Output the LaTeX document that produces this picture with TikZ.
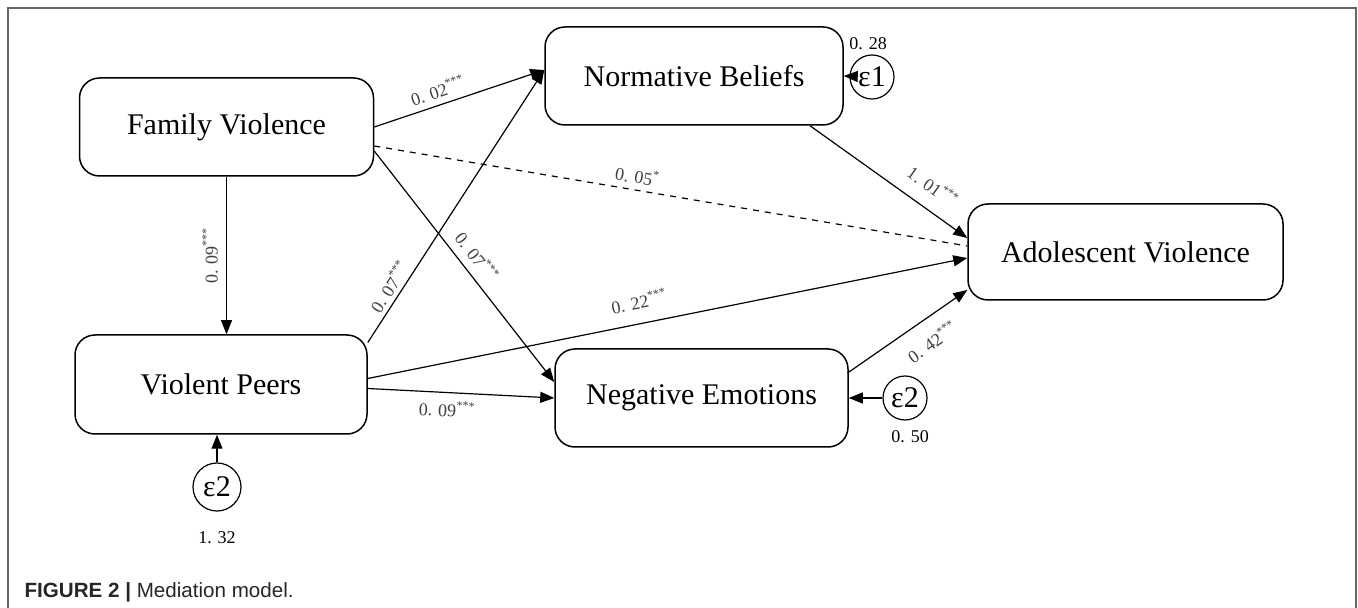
\documentclass[tikz,border=0pt]{standalone}
\usepackage{fontspec}
\setmainfont{Liberation Serif}
\newfontfamily\capfont{Liberation Sans}
\usetikzlibrary{arrows.meta}

\begin{document}
\begin{tikzpicture}[x=0.5pt,y=-0.5pt,
	var/.style={draw, line width=0.75pt, rounded corners=10pt, minimum width=147pt, minimum height=49pt, font=\fontsize{15}{18}\selectfont},
	err/.style={draw, circle, line width=0.6pt, inner sep=0pt, minimum size=22pt, font=\fontsize{15}{18}\selectfont},
	coef/.style={font=\fontsize{9}{10}\selectfont, text=black!75, inner sep=1pt},
	every path/.style={line width=0.6pt},
	>={Triangle[length=7pt,width=5.5pt]}]
	\useasboundingbox (0,0) rectangle (1358,608);
	%Frame
	\draw[line width=1pt, black!60] (8,608) -- (8,8.5) -- (1356,8.5) -- (1356,608);
	%Variables
	\node[var] (fv) at (226.5,127) {Family Violence};
	\node[var, minimum width=146pt, minimum height=49.5pt] (vp) at (221,384.5) {Violent Peers};
	\node[var, minimum width=149pt] (nb) at (694,76) {Normative Beliefs};
	\node[var, minimum width=146.5pt] (ne) at (701.5,398) {Negative Emotions};
	\node[var, minimum width=157.5pt, minimum height=48pt] (av) at (1125.5,252) {Adolescent Violence};
	%Errors
	\node[err] (errnb) at (872,77) {ε1};
	\node[err] (errne) at (905,398) {ε2};
	\node[err, minimum size=24pt] (errvp) at (217,487) {ε2};
	\node[coef, text=black] (varnb) at (868,44) {0. 28};
	\node[coef, text=black] (varne) at (910,437) {0. 50};
	\node[coef, text=black] (varvp) at (217,538) {1. 32};
	\draw[->] (errnb) -- (nb.east);
	\draw[->] (errne) -- (ne.east);
	\draw[->] (errvp) -- (errvp |- vp.south);
	%Paths
	\draw[->] (fv.east) -- ([yshift=3pt]nb.west) node[coef, pos=0.4, sloped, above=2pt] {0. 02\textsuperscript{***}};
	\draw[dashed] ([yshift=-9.5pt]fv.east) -- ([yshift=3pt]av.west) node[coef, pos=0.44, sloped, above=2pt] {0. 05\textsuperscript{*}};
	\draw[->] ([yshift=-12pt]fv.east) -- ([yshift=8pt]ne.west) node[coef, pos=0.5, sloped, above=3pt] {0. 07\textsuperscript{***}};
	\draw[->] (fv.south) -- (fv.south |- vp.north) node[coef, midway, rotate=90, above=3pt] {0. 09\textsuperscript{***}};
	\draw[->] ([yshift=21pt]vp.east) -- ([yshift=3pt]nb.west) node[coef, pos=0.18, sloped, above=1pt] {0. 07\textsuperscript{***}};
	\draw[->] ([yshift=3pt]vp.east) -- ([yshift=-3pt]av.west) node[coef, pos=0.46, sloped, above=6pt] {0. 22\textsuperscript{***}};
	\draw[->] ([yshift=-2pt]vp.east) -- (ne.west) node[coef, pos=0.43, sloped, below=3pt] {0. 09\textsuperscript{***}};
	\draw[->] ([xshift=58pt]nb.south) -- ([yshift=7pt]av.west) node[coef, pos=0.7, sloped, above=6pt] {1. 01\textsuperscript{***}};
	\draw[->] ([xshift=73pt,yshift=12.5pt]ne.center) -- ([yshift=-19pt]av.west) node[coef, pos=0.6, sloped, below=6pt] {0. 42\textsuperscript{***}};
	%Caption
	\node[anchor=base west, inner sep=0pt, text=black!85, font=\capfont\fontsize{10.3}{12}\selectfont] (cap) at (24,597) {\textbf{FIGURE 2 |} Mediation model.};
\end{tikzpicture}
\end{document}
